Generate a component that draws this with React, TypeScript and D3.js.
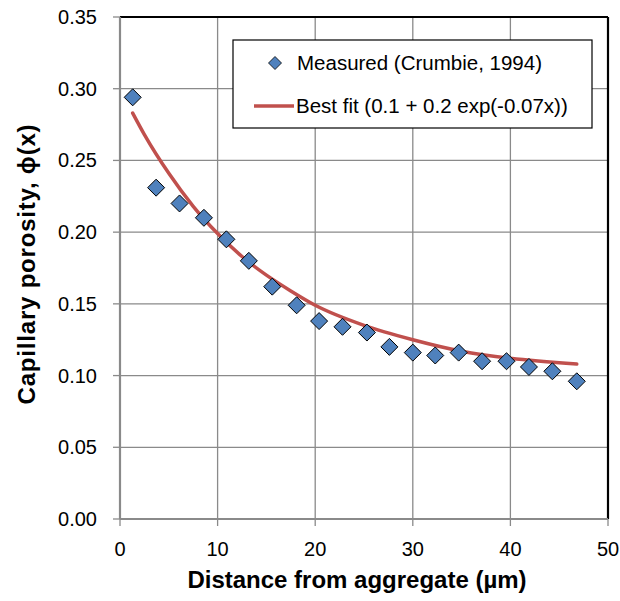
import React from "react";
import * as d3 from "d3";

const measuredX = [1.3, 3.7, 6.1, 8.6, 10.9, 13.2, 15.6, 18.1, 20.4, 22.8, 25.3, 27.6, 30.0, 32.3, 34.7, 37.1, 39.6, 41.9, 44.3, 46.8];
const measuredY = [0.294, 0.231, 0.220, 0.210, 0.195, 0.180, 0.162, 0.149, 0.138, 0.134, 0.130, 0.120, 0.116, 0.114, 0.116, 0.110, 0.110, 0.106, 0.103, 0.096];

const fitX = [1.3, 2.5, 5, 7.5, 10, 12.5, 15, 17.5, 20, 25, 30, 35, 40, 46.8];
const fitY = [0.283, 0.268, 0.241, 0.218, 0.199, 0.183, 0.170, 0.159, 0.149, 0.135, 0.125, 0.117, 0.112, 0.108];

const xTicks = [0, 10, 20, 30, 40, 50];
const yTicks = [0, 0.05, 0.1, 0.15, 0.2, 0.25, 0.3, 0.35];

const legendLabels = ["Measured (Crumbie, 1994)", "Best fit (0.1 + 0.2 exp(-0.07x))"];
const xTitle = "Distance from aggregate (µm)";
const yTitle = "Capillary porosity, ϕ(x)";

const W = 620;
const H = 601;
const L = 120, R = 608, T = 17, B = 519;
const FONT = "'Liberation Sans', Arial, sans-serif";
const GRID = "#8a8a8a";
const BLUE = "#4F81BD";
const RED = "#C0504D";

function diamond(cx: number, cy: number, r: number) {
  return `M${cx},${cy - r}L${cx + r},${cy}L${cx},${cy + r}L${cx - r},${cy}Z`;
}

export default function App() {
  const x = d3.scaleLinear().domain([0, 50]).range([L, R]);
  const y = d3.scaleLinear().domain([0, 0.35]).range([B, T]);
  const fitPts = fitX.map((v, i) => [v, fitY[i]] as [number, number]);
  const line = d3
    .line<[number, number]>()
    .x((d) => x(d[0]))
    .y((d) => y(d[1]))
    .curve(d3.curveMonotoneX);

  return (
    <svg
      width={W}
      height={H}
      style={{ position: "absolute", left: 0, top: 0, background: "#fff" }}
      fontFamily={FONT}
    >
      <rect x={0} y={0} width={W} height={H} fill="#fff" />
      {/* grid */}
      {yTicks.map((t) => (
        <line key={"gy" + t} x1={L} x2={R} y1={y(t)} y2={y(t)} stroke={GRID} strokeWidth={1.3} />
      ))}
      {xTicks.map((t) => (
        <line key={"gx" + t} x1={x(t)} x2={x(t)} y1={T} y2={B} stroke={GRID} strokeWidth={1.3} />
      ))}
      {/* border top/right */}
      <line x1={L} x2={R} y1={T} y2={T} stroke="#000" strokeWidth={2.2} />
      <line x1={R} x2={R} y1={T} y2={B} stroke="#000" strokeWidth={2.2} />
      {/* axes */}
      <line x1={L} x2={L} y1={T} y2={B} stroke={GRID} strokeWidth={2.2} />
      <line x1={L} x2={R} y1={B} y2={B} stroke={GRID} strokeWidth={2.2} />
      {yTicks.map((t) => (
        <g key={"ty" + t}>
          <line x1={L - 7} x2={L} y1={y(t)} y2={y(t)} stroke={GRID} strokeWidth={1.3} />
          <text x={97} y={y(t)} dy="0.35em" textAnchor="end" fontSize={20} fill="#000">
            {t.toFixed(2)}
          </text>
        </g>
      ))}
      {xTicks.map((t) => (
        <g key={"tx" + t}>
          <line x1={x(t)} x2={x(t)} y1={B} y2={B + 7} stroke={GRID} strokeWidth={1.3} />
          <text x={x(t)} y={556} textAnchor="middle" fontSize={20} fill="#000">
            {t}
          </text>
        </g>
      ))}
      {/* fit line */}
      <path d={line(fitPts) || ""} fill="none" stroke={RED} strokeWidth={3.5} strokeLinecap="round" />
      {/* markers */}
      {measuredX.map((v, i) => (
        <path key={"m" + i} d={diamond(x(v), y(measuredY[i]), 8.5)} fill={BLUE} stroke="#000" strokeWidth={1} />
      ))}
      {/* legend */}
      <rect x={233} y={40} width={359} height={88} fill="#fff" stroke="#000" strokeWidth={1.2} />
      <path d={diamond(275, 63, 6.5)} fill={BLUE} stroke="#000" strokeWidth={0.8} />
      <text x={297} y={63} dy="0.35em" fontSize={20.5} fill="#000">
        {legendLabels[0]}
      </text>
      <line x1={254} x2={294} y1={106} y2={106} stroke={RED} strokeWidth={3.5} />
      <text x={296} y={106} dy="0.35em" fontSize={20.5} fill="#000">
        {legendLabels[1]}
      </text>
      {/* titles */}
      <text x={357} y={588} textAnchor="middle" fontSize={24} fontWeight="bold" fill="#000">
        {xTitle}
      </text>
      <text
        transform={`translate(35,${264}) rotate(-90)`}
        textAnchor="middle"
        fontSize={24}
        fontWeight="bold"
        letterSpacing={0.8}
        fill="#000"
      >
        {yTitle}
      </text>
    </svg>
  );
}
